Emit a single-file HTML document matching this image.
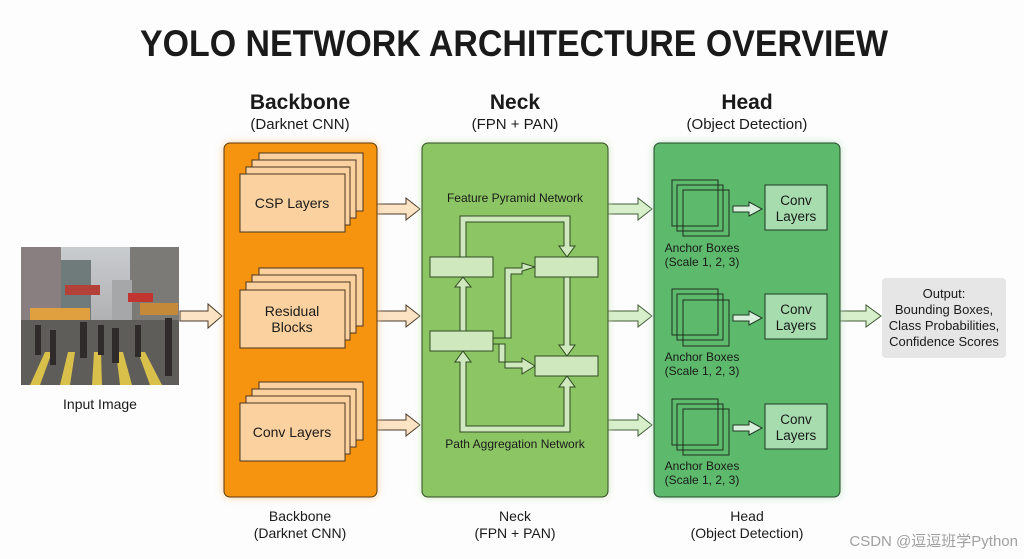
<!DOCTYPE html>
<html><head><meta charset="utf-8"><style>
html,body{margin:0;padding:0;background:#fff;}
svg{display:block;}
text{font-family:"Liberation Sans",sans-serif;fill:#1a1a1a;}
</style></head><body>
<svg width="1024" height="559" viewBox="0 0 1024 559" xmlns="http://www.w3.org/2000/svg">
<defs>
<filter id="glow" x="-20%" y="-20%" width="140%" height="140%"><feGaussianBlur stdDeviation="4"/></filter>
<linearGradient id="sky" x1="0" y1="0" x2="0" y2="1"><stop offset="0" stop-color="#c9ccd0"/><stop offset="1" stop-color="#9a9a98"/></linearGradient>
</defs>
<rect width="1024" height="559" fill="#fdfdfd"/>
<text x="514" y="56" font-size="37" font-weight="bold" text-anchor="middle" textLength="748" lengthAdjust="spacingAndGlyphs" fill="#0d0d0d">YOLO NETWORK ARCHITECTURE OVERVIEW</text>

<text x="300" y="109" font-size="21" font-weight="bold" text-anchor="middle">Backbone</text>
<text x="300" y="129" font-size="15" text-anchor="middle">(Darknet CNN)</text>
<text x="515" y="109" font-size="21" font-weight="bold" text-anchor="middle">Neck</text>
<text x="515" y="129" font-size="15" text-anchor="middle">(FPN + PAN)</text>
<text x="747" y="109" font-size="21" font-weight="bold" text-anchor="middle">Head</text>
<text x="747" y="129" font-size="15" text-anchor="middle">(Object Detection)</text>

<!-- image -->
<g>
<rect x="21" y="247" width="158" height="138" fill="url(#sky)"/>
<rect x="21" y="247" width="40" height="100" fill="#8a7f80"/>
<rect x="61" y="260" width="30" height="80" fill="#6f7b7a"/>
<rect x="130" y="247" width="49" height="95" fill="#7c7a76"/>
<rect x="112" y="280" width="20" height="50" fill="#a5a7a8"/>
<rect x="65" y="285" width="35" height="10" fill="#b3413a"/>
<rect x="128" y="293" width="25" height="9" fill="#c2342f"/>
<rect x="30" y="308" width="60" height="12" fill="#e0a040"/>
<rect x="140" y="303" width="38" height="12" fill="#c48a3a"/>
<rect x="21" y="320" width="158" height="65" fill="#5f5d5a"/>
<g fill="#d8c04a"><polygon points="30,385 45,352 52,352 40,385"/><polygon points="60,385 68,352 75,352 70,385"/><polygon points="92,385 94,352 101,352 102,385"/><polygon points="120,385 116,352 123,352 132,385"/><polygon points="150,385 138,352 145,352 162,385"/></g>
<g fill="#2e2b2a"><rect x="35" y="325" width="6" height="30"/><rect x="50" y="330" width="6" height="35"/><rect x="80" y="322" width="7" height="36"/><rect x="98" y="325" width="6" height="30"/><rect x="112" y="328" width="7" height="35"/><rect x="135" y="325" width="6" height="32"/><rect x="165" y="318" width="7" height="58"/></g>
</g>
<text x="100" y="409" font-size="14" text-anchor="middle">Input Image</text>

<!-- hollow arrows -->
<g fill="#fbe3c4" stroke="#4a3a2a" stroke-width="1">
<path d="M180,311 H208 V304 L222,316 L208,328 V321 H180 Z"/>
<path d="M377,204 H406 V198 L420,209 L406,220 V214 H377 Z"/>
<path d="M377,311 H406 V305 L420,316 L406,327 V321 H377 Z"/>
<path d="M377,420 H406 V414 L420,425 L406,436 V430 H377 Z"/>
</g>
<g fill="#d8efcb" stroke="#3f5a35" stroke-width="1">
<path d="M608,204 H638 V198 L652,209 L638,220 V214 H608 Z"/>
<path d="M608,311 H638 V305 L652,316 L638,327 V321 H608 Z"/>
<path d="M608,420 H638 V414 L652,425 L638,436 V430 H608 Z"/>
<path d="M840,311 H866 V305 L881,316 L866,327 V321 H840 Z"/>
</g>

<!-- Backbone -->
<rect x="224" y="143" width="153" height="354" rx="6" fill="#fbc58a" filter="url(#glow)"/>
<rect x="224" y="143" width="153" height="354" rx="6" fill="#f7940f" stroke="#5a3a10" stroke-width="1"/>
<g fill="#fbd29f" stroke="#4a3520" stroke-width="1">
<rect x="259" y="153" width="104" height="58"/><rect x="252" y="160" width="104" height="58"/><rect x="246" y="167" width="104" height="58"/><rect x="240" y="174" width="105" height="58"/>
<rect x="259" y="268" width="104" height="58"/><rect x="252" y="275" width="104" height="58"/><rect x="246" y="282" width="104" height="58"/><rect x="240" y="290" width="105" height="58"/>
<rect x="259" y="382" width="104" height="58"/><rect x="252" y="389" width="104" height="58"/><rect x="246" y="396" width="104" height="58"/><rect x="240" y="403" width="105" height="58"/>
</g>
<text x="292" y="208" font-size="14" text-anchor="middle">CSP Layers</text>
<text x="292" y="316" font-size="14" text-anchor="middle">Residual</text>
<text x="292" y="332" font-size="14" text-anchor="middle">Blocks</text>
<text x="292" y="437" font-size="14" text-anchor="middle">Conv Layers</text>

<!-- Neck -->
<rect x="422" y="143" width="186" height="354" rx="6" fill="#c9e6b4" filter="url(#glow)"/>
<rect x="422" y="143" width="186" height="354" rx="6" fill="#8cc564" stroke="#2f4a22" stroke-width="1"/>
<text x="515" y="202" font-size="12" text-anchor="middle">Feature Pyramid Network</text>
<text x="515" y="448" font-size="12" text-anchor="middle">Path Aggregation Network</text>
<g fill="#cfe8bd" stroke="#2f4a22" stroke-width="1">
<path d="M460,257 V216 H570 V246 H575 L567,257 L559,246 H564 V222 H466 V257 Z"/>
<path d="M460,331 V287 H455 L463,277 L471,287 H466 V331 Z"/>
<path d="M493,338 H505 V268 H522 V263 L535,267 L522,271 V274 H511 V338 Z"/>
<path d="M493,344 H499 V362 H522 V358 L535,366 L522,374 V368 H505 V344 Z"/>
<path d="M564,277 V345 H559 L567,356 L575,345 H570 V277 Z"/>
<path d="M460,362 H455 L463,351 L471,362 H466 V426 H564 V387 H559 L567,376 L575,387 H570 V432 H460 Z"/>
<rect x="430" y="257" width="63" height="20"/>
<rect x="430" y="331" width="63" height="20"/>
<rect x="535" y="257" width="63" height="20"/>
<rect x="535" y="356" width="63" height="20"/>
</g>

<!-- Head -->
<rect x="654" y="143" width="186" height="354" rx="6" fill="#b7e0bd" filter="url(#glow)"/>
<rect x="654" y="143" width="186" height="354" rx="6" fill="#5db96b" stroke="#244a2a" stroke-width="1"/>
<g fill="none" stroke="#1f3022" stroke-width="1">
<rect x="672" y="180" width="46" height="46"/><rect x="677" y="185" width="46" height="46"/><rect x="683" y="190" width="46" height="46"/>
<rect x="672" y="289" width="46" height="46"/><rect x="677" y="294" width="46" height="46"/><rect x="683" y="300" width="46" height="46"/>
<rect x="672" y="399" width="46" height="46"/><rect x="677" y="404" width="46" height="46"/><rect x="683" y="409" width="46" height="46"/>
</g>
<g fill="#a6dcae" stroke="#1f3a25" stroke-width="1">
<rect x="765" y="185" width="62" height="45"/><rect x="765" y="294" width="62" height="45"/><rect x="765" y="404" width="62" height="45"/>
</g>
<g fill="#d8efdb" stroke="#1f3a25" stroke-width="1">
<path d="M733,206 H749 V202 L762,209 L749,216 V212 H733 Z"/>
<path d="M733,315 H749 V311 L762,318 L749,325 V321 H733 Z"/>
<path d="M733,425 H749 V421 L762,428 L749,435 V431 H733 Z"/>
</g>
<g font-size="13.5" text-anchor="middle">
<text x="796" y="205">Conv</text><text x="796" y="221">Layers</text>
<text x="796" y="314">Conv</text><text x="796" y="330">Layers</text>
<text x="796" y="424">Conv</text><text x="796" y="440">Layers</text>
</g>
<g font-size="12" text-anchor="middle">
<text x="702" y="252">Anchor Boxes</text><text x="702" y="266">(Scale 1, 2, 3)</text>
<text x="702" y="361">Anchor Boxes</text><text x="702" y="375">(Scale 1, 2, 3)</text>
<text x="702" y="470">Anchor Boxes</text><text x="702" y="484">(Scale 1, 2, 3)</text>
</g>

<!-- Output -->
<rect x="882" y="278" width="124" height="80" rx="4" fill="#e6e6e6"/>
<g font-size="13" text-anchor="middle">
<text x="944" y="298">Output:</text>
<text x="944" y="314">Bounding Boxes,</text>
<text x="944" y="330">Class Probabilities,</text>
<text x="944" y="346">Confidence Scores</text>
</g>

<g font-size="14" text-anchor="middle">
<text x="300" y="521">Backbone</text><text x="300" y="538">(Darknet CNN)</text>
<text x="515" y="521">Neck</text><text x="515" y="538">(FPN + PAN)</text>
<text x="747" y="521">Head</text><text x="747" y="538">(Object Detection)</text>
</g>
<text x="1018" y="546" font-size="15" text-anchor="end" style="font-family:'Liberation Sans','Noto Sans CJK SC',sans-serif;fill:#a0a0a0">CSDN @逗逗班学Python</text>
</svg>
</body></html>
